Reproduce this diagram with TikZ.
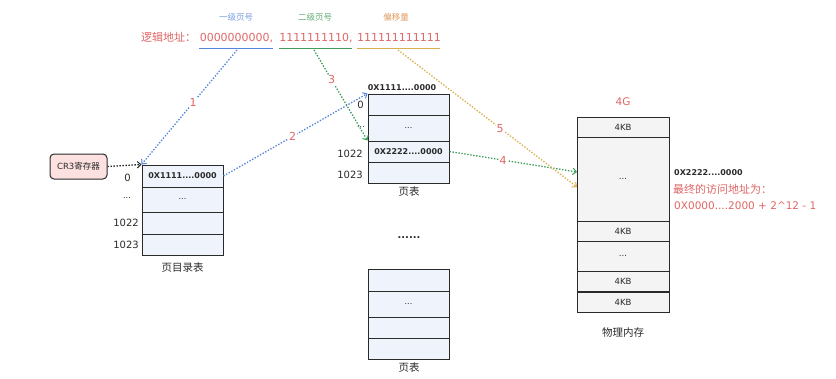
\documentclass[tikz,border=0pt]{standalone}
\usepackage{fontspec}
\setmainfont{DejaVu Sans}
\newfontfamily\cjk{Noto Sans CJK SC}
\usetikzlibrary{arrows.meta}
\definecolor{cblue}{HTML}{5585D8}
\definecolor{cgreen}{HTML}{409C5A}
\definecolor{corange}{HTML}{D9AE4C}
\definecolor{cred}{HTML}{E06666}
\definecolor{tblfill}{HTML}{EEF3FC}
\definecolor{memfill}{HTML}{F4F4F4}
\definecolor{crfill}{HTML}{FDE0E0}
\definecolor{bord}{HTML}{2A2A2A}
\definecolor{corgtxt}{HTML}{DE9A5E}
\begin{document}
\begin{tikzpicture}[x=1pt,y=-1pt,
  cell/.style={draw=bord,line width=1pt,fill=tblfill,minimum width=81pt,inner sep=0pt,font=\fontsize{8}{9}\selectfont,text=bord},
  mcell/.style={draw=bord,line width=1pt,fill=memfill,minimum width=92pt,inner sep=0pt,font=\fontsize{8.5}{9}\selectfont,text=bord},
  idx/.style={anchor=east,inner sep=0pt,font=\fontsize{10}{11}\selectfont,text=bord},
  captxt/.style={inner sep=0pt,font=\cjk\fontsize{10.5}{12}\selectfont,text=bord},
  dotarr/.style={line width=1.3pt,dash pattern=on 1.4pt off 1.6pt,-{Straight Barb[length=3.5pt,width=6.5pt,line width=1pt]}},
  numlab/.style={fill=white,inner sep=1pt,text=cred,font=\fontsize{11}{12}\selectfont},
  addr/.style={anchor=base,inner sep=0pt,text=cred,font=\fontsize{11}{12}\selectfont},
  smalltxt/.style={inner sep=0pt,font=\cjk\fontsize{8.5}{9}\selectfont}]
\useasboundingbox (0,0) rectangle (836,378);

% logical address
\node[smalltxt,text=cblue!80] (t1) at (236,17) {一级页号};
\node[smalltxt,text=cgreen!85] (t2) at (315,17) {二级页号};
\node[smalltxt,text=corgtxt] (t3) at (396,17) {偏移量};
\node[anchor=base west,inner sep=0pt,text=cred,font=\cjk\fontsize{11}{12}\selectfont] (al) at (141,41) {逻辑地址：};
\node[addr] (s1) at (236.5,41) {0000000000,};
\node[addr] (s2) at (316,41) {1111111110,};
\node[addr] (s3) at (399,41) {111111111111};
\draw[cblue,line width=1pt] (199,48) -- (273,48);
\draw[cgreen,line width=1pt] (279,48) -- (352,48);
\draw[corange,line width=1pt] (357,48) -- (440,48);
\coordinate (u1) at (237,50);
\coordinate (u2) at (314,50);
\coordinate (u3) at (398,50);

% CR3
\node[draw=bord,line width=1pt,fill=crfill,rounded corners=4pt,minimum width=57pt,minimum height=25pt,inner sep=0pt,font=\fontsize{8.5}{9}\selectfont,text=bord] (cr3) at (78.5,166.5) {CR3{\cjk 寄存器}};

% page directory
\node[cell,minimum height=22pt] (pd0) at (182.5,176) {\bfseries 0X1111....0000};
\node[cell,minimum height=25pt] (pd1) at (182.5,199.5) {...};
\node[cell,minimum height=22pt] (pd2) at (182.5,223) {};
\node[cell,minimum height=21pt] (pd3) at (182.5,244.5) {};
\node[idx] (pdl0) at (131,178) {0};
\node[idx,font=\fontsize{8}{9}\selectfont] (pdl1) at (131,198) {...};
\node[idx] (pdl2) at (139,223) {1022};
\node[idx] (pdl3) at (139,245) {1023};
\node[captxt] (pdc) at (182.5,268) {页目录表};

% page table 1
\node[cell,minimum height=21pt] (pa0) at (408.5,104.5) {};
\node[cell,minimum height=26pt] (pa1) at (408.5,128) {...};
\node[cell,minimum height=21pt] (pa2) at (408.5,151.5) {\bfseries 0X2222....0000};
\node[cell,minimum height=21pt] (pa3) at (408.5,172.5) {};
\node[inner sep=0pt,font=\bfseries\fontsize{8}{9}\selectfont,text=bord] (pah) at (402,88) {0X1111....0000};
\node[idx] (pal0) at (364,105) {0};
\node[idx,font=\fontsize{8}{9}\selectfont] (pal1) at (365,127) {...};
\node[idx] (pal2) at (363,154) {1022};
\node[idx] (pal3) at (363,175) {1023};
\node[captxt] (pac) at (409,192) {页表};

\node[inner sep=0pt,font=\bfseries\fontsize{10}{11}\selectfont,text=bord] (dots) at (409,238) {......};

% page table 2
\node[cell,minimum height=22pt] (pb0) at (408.5,280) {};
\node[cell,minimum height=26pt] (pb1) at (408.5,304) {...};
\node[cell,minimum height=21pt] (pb2) at (408.5,327.5) {};
\node[cell,minimum height=21pt] (pb3) at (408.5,348.5) {};
\node[captxt] (pbc) at (409,368) {页表};

% memory
\node[inner sep=0pt,text=cred,font=\fontsize{10.5}{12}\selectfont] (g4) at (623,102) {4G};
\node[mcell,minimum height=20pt] (m0) at (623,127) {4KB};
\node[mcell,minimum height=84pt] (m1) at (623,179) {...};
\node[mcell,minimum height=20pt] (m2) at (623,231) {4KB};
\node[mcell,minimum height=30pt] (m3) at (623,256) {...};
\node[mcell,minimum height=20pt] (m4) at (623,281) {4KB};
\node[mcell,minimum height=20pt] (m5) at (623,302) {4KB};
\node[captxt] (mc) at (623,333) {物理内存};
\node[anchor=west,inner sep=0pt,font=\bfseries\fontsize{8}{9}\selectfont,text=bord] (r1) at (674,173) {0X2222....0000};
\node[anchor=west,inner sep=0pt,text=cred,font=\cjk\fontsize{11}{12}\selectfont] (r2) at (673,189) {最终的访问地址为：};
\node[anchor=west,inner sep=0pt,text=cred,font=\fontsize{10.5}{12}\selectfont] (r3) at (674,206) {0X0000....2000 + 2\^{}12 - 1};
\coordinate (mA) at (577,172);
\coordinate (mB) at (577,187);

% arrows
\draw[dotarr,bord] (cr3.east) -- (pd0.north west);
\draw[dotarr,cblue] (u1) -- node[numlab,pos=0.46] (n1) {1} (pd0.north west);
\draw[dotarr,cblue] (pd0.east) -- node[numlab,pos=0.48] (n2) {2} (pa0.north west);
\draw[dotarr,cgreen] (u2) -- node[numlab,pos=0.33] (n3) {3} (pa2.north west);
\draw[dotarr,cgreen] (pa2.east) -- node[numlab,pos=0.42] (n4) {4} (mA);
\draw[dotarr,corange] (u3) -- node[numlab,pos=0.57] (n5) {5} (mB);
\end{tikzpicture}
\end{document}
